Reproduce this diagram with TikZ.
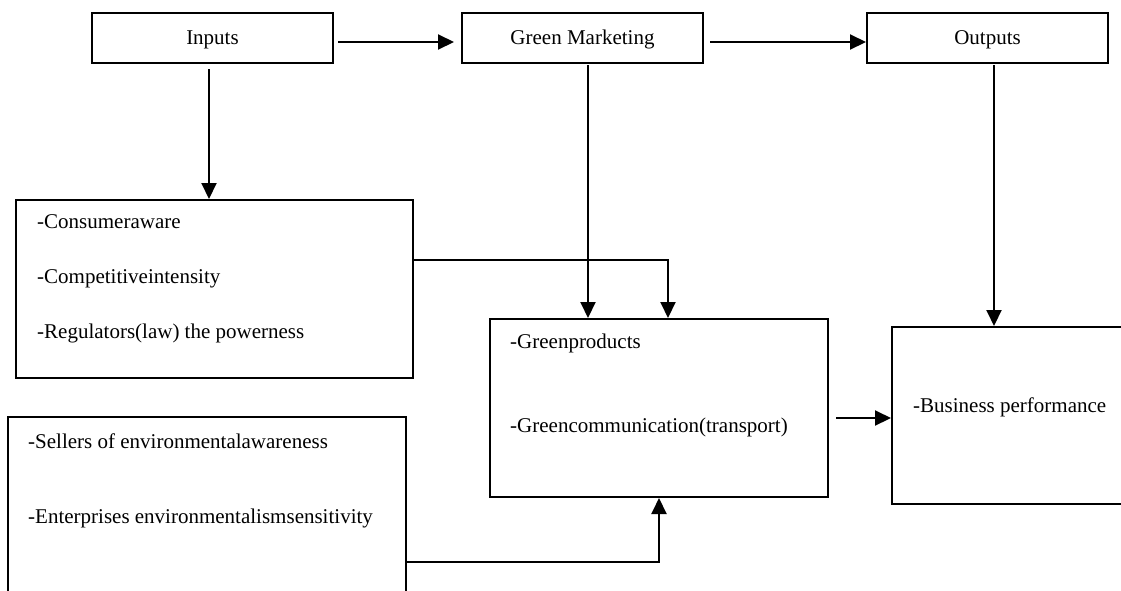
\documentclass[tikz,border=0pt]{standalone}
\usepackage{fontspec}
\setmainfont{Liberation Serif}
\usetikzlibrary{arrows.meta}
\begin{document}
\begin{tikzpicture}[x=1pt,y=-1pt,
  box/.style={draw, line width=2pt, inner sep=0pt, font=\fontsize{21}{25}\selectfont},
  txt/.style={anchor=west, inner sep=0pt, font=\fontsize{21}{25}\selectfont, text height=14pt, text depth=4pt},
  arr/.style={line width=2pt, -{Triangle[length=16pt,width=15pt]}},
  ln/.style={line width=2pt}]
\useasboundingbox (0,0) rectangle (1121,590);
\clip (0,0) rectangle (1121,590);
% top row
\node[box, minimum width=241pt, minimum height=50pt, text height=14pt, text depth=2pt] (inputs) at (212.5,38) {Inputs};
\node[box, minimum width=241pt, minimum height=50pt, text height=14pt, text depth=2pt] (gm) at (582.5,38) {Green Marketing};
\node[box, minimum width=241pt, minimum height=50pt, text height=14pt, text depth=2pt] (outputs) at (987.5,38) {Outputs};
% lower boxes
\node[box, minimum width=397pt, minimum height=178pt] (b1) at (214.5,289) {};
\node[box, minimum width=398pt, minimum height=203pt] (b2) at (207,518.5) {};
\node[box, minimum width=338pt, minimum height=178pt] (gout) at (659,408) {};
\node[box, minimum width=258pt, minimum height=177pt] (bp) at (1021,415.5) {};
% texts
\node[txt] (t1) at (37,223) {-Consumeraware};
\node[txt] (t2) at (37,278) {-Competitiveintensity};
\node[txt] (t3) at (37,333) {-Regulators(law) the powerness};
\node[txt] (t4) at (28,443) {-Sellers of environmentalawareness};
\node[txt] (t5) at (28,518) {-Enterprises environmentalismsensitivity};
\node[txt] (t6) at (510,343) {-Greenproducts};
\node[txt] (t7) at (510,427) {-Greencommunication(transport)};
\node[txt] (t8) at (913,407) {-Business performance};
% connector anchor points
\coordinate (ia) at ([yshift=-4pt]inputs.east);
\coordinate (ga) at ([yshift=-4pt]gm.east);
\coordinate (gd) at ([xshift=5.5pt]gm.south);
\coordinate (od) at ([xshift=6.5pt]outputs.south);
\coordinate (bo) at ([yshift=29pt]b1.east);
\coordinate (gt) at ([xshift=9pt]gout.north);
\coordinate (bb) at ([yshift=-43.5pt]b2.east);
\coordinate (go) at ([yshift=-10pt]gout.east);
% connectors
\draw[arr, shorten <=4pt, shorten >=7pt] (ia) -- (ia -| gm.west);
\draw[arr, shorten <=6pt] (ga) -- (ga -| outputs.west);
\draw[arr, shorten <=5pt] ([xshift=-3.5pt]inputs.south) -- ([xshift=-3.5pt]inputs.south |- b1.north);
\draw[arr, shorten <=1pt] (gd) -- (gd |- gout.north);
\draw[arr, shorten <=1pt] (od) -- (od |- bp.north);
\draw[arr] (bo) -| (gt);
\draw[arr] (bb) -| (gout.south);
\draw[arr, shorten <=7pt] (go) -- (go -| bp.west);
\end{tikzpicture}
\end{document}
